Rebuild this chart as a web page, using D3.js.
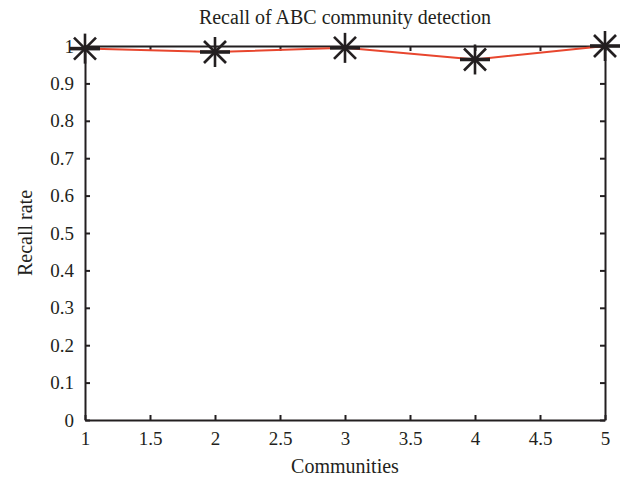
<!DOCTYPE html>
<html>
<head>
<meta charset="utf-8">
<script src="https://cdn.jsdelivr.net/npm/d3@7"></script>
<style>
  body { margin: 0; background: #fff; }
  svg { display: block; }
  text { font-family: "Liberation Serif", "DejaVu Serif", serif; fill: #231f20; }
</style>
</head>
<body>
<svg id="chart" width="628" height="477"></svg>
<script>
const communities = [1, 2, 3, 4, 5];
const recall = [0.993, 0.984, 0.995, 0.964, 1.0];
const xTicks = [1, 1.5, 2, 2.5, 3, 3.5, 4, 4.5, 5];
const yTicks = [0, 0.1, 0.2, 0.3, 0.4, 0.5, 0.6, 0.7, 0.8, 0.9, 1];

const svg = d3.select("#chart");
const margin = { left: 85, right: 23, top: 46, bottom: 57 };
const W = 628, H = 477;
const ink = "#231f20";
const serif = '"Liberation Serif", "DejaVu Serif", serif';

const x = d3.scaleLinear().domain([1, 5]).range([margin.left, W - margin.right]);
const y = d3.scaleLinear().domain([0, 1]).range([H - margin.bottom, margin.top]);

const tick = 5;
const fmt = d => String(d);

function style(g) {
  g.attr("font-family", serif).attr("font-size", 19);
  g.selectAll("text").attr("fill", ink);
}

// bottom axis
svg.append("g")
  .attr("transform", `translate(0,${y(0)})`)
  .call(d3.axisBottom(x).tickValues(xTicks).tickFormat(fmt).tickSizeInner(-tick).tickSizeOuter(0).tickPadding(12))
  .call(style);
// top axis
svg.append("g")
  .attr("transform", `translate(0,${y(1)})`)
  .call(d3.axisTop(x).tickValues(xTicks).tickFormat("").tickSizeInner(-tick).tickSizeOuter(0));
// left axis
svg.append("g")
  .attr("transform", `translate(${x(1)},0)`)
  .call(d3.axisLeft(y).tickValues(yTicks).tickFormat(fmt).tickSizeInner(-tick).tickSizeOuter(0).tickPadding(11))
  .call(style);
// right axis
svg.append("g")
  .attr("transform", `translate(${x(5)},0)`)
  .call(d3.axisRight(y).tickValues(yTicks).tickFormat("").tickSizeInner(-tick).tickSizeOuter(0));

svg.selectAll(".domain, .tick line").attr("stroke", ink).attr("stroke-width", 2);

// line
const data = communities.map((c, i) => ({ c, v: recall[i] }));
svg.append("path")
  .datum(data)
  .attr("fill", "none")
  .attr("stroke", "#e8462e")
  .attr("stroke-width", 2)
  .attr("d", d3.line().x(d => x(d.c)).y(d => y(d.v)));

// asterisk markers
const r = 15, rd = 11;
const mk = svg.append("g").selectAll("g").data(data).join("g")
  .attr("transform", d => `translate(${x(d.c)},${y(d.v)})`)
  .attr("stroke", ink).attr("stroke-width", 2.6);
mk.append("line").attr("x1", -r).attr("x2", r).attr("y1", 0).attr("y2", 0).attr("stroke-width", 3.6);
mk.append("line").attr("x1", 0).attr("x2", 0).attr("y1", -r).attr("y2", r);
mk.append("line").attr("x1", -rd).attr("x2", rd).attr("y1", -rd).attr("y2", rd);
mk.append("line").attr("x1", -rd).attr("x2", rd).attr("y1", rd).attr("y2", -rd);

// titles
svg.append("text").attr("x", (x(1) + x(5)) / 2).attr("y", 24)
  .attr("text-anchor", "middle").attr("font-size", 20).text("Recall of ABC community detection");
svg.append("text").attr("x", (x(1) + x(5)) / 2).attr("y", 473)
  .attr("text-anchor", "middle").attr("font-size", 20).text("Communities");
svg.append("text")
  .attr("transform", `translate(32,${(y(0) + y(1)) / 2}) rotate(-90)`)
  .attr("text-anchor", "middle").attr("font-size", 20).text("Recall rate");
</script>
</body>
</html>
